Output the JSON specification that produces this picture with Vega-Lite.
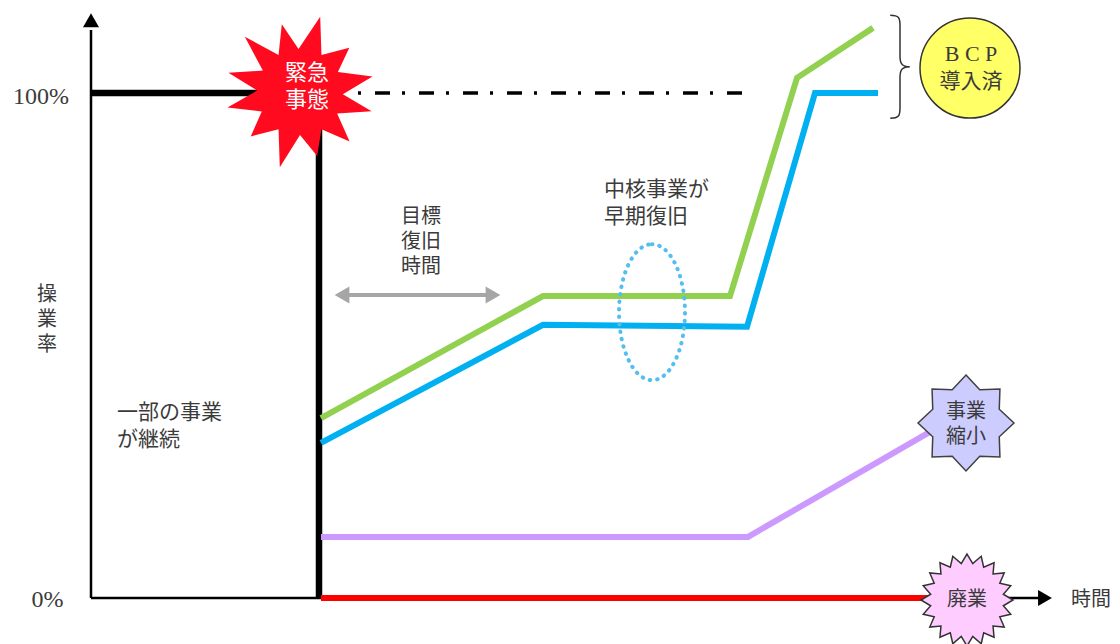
{
  "$schema": "https://vega.github.io/schema/vega-lite/v6.json",
  "width": 1120,
  "height": 644,
  "autosize": {"type": "fit", "contains": "padding"},
  "padding": 0,
  "background": "white",
  "config": {"view": {"stroke": null}},
  "datasets": {
    "axes": [
      {"part": "y", "i": 0, "t": -0.1, "v": 0},
      {"part": "y", "i": 1, "t": -0.1, "v": 112.5},
      {"part": "x", "i": 0, "t": -0.1, "v": 0},
      {"part": "x", "i": 1, "t": 94.9, "v": 0}
    ],
    "yArrow": [{"t": -0.1, "v": 114.4}],
    "xArrow": [{"t": 95.3, "v": 0}],
    "before": [
      {"i": 0, "t": -0.1, "v": 100},
      {"i": 1, "t": 22.7, "v": 100},
      {"i": 2, "t": 22.7, "v": 0}
    ],
    "target": [
      {"i": 0, "t": 26.6, "v": 100},
      {"i": 1, "t": 65.0, "v": 100}
    ],
    "recovery": [
      {"s": "BCP導入済A", "i": 0, "t": 22.9, "v": 35.6},
      {"s": "BCP導入済A", "i": 1, "t": 45.1, "v": 59.8},
      {"s": "BCP導入済A", "i": 2, "t": 63.8, "v": 59.8},
      {"s": "BCP導入済A", "i": 3, "t": 70.5, "v": 103.0},
      {"s": "BCP導入済A", "i": 4, "t": 78.1, "v": 112.9},
      {"s": "BCP導入済B", "i": 0, "t": 22.9, "v": 30.7},
      {"s": "BCP導入済B", "i": 1, "t": 45.1, "v": 54.1},
      {"s": "BCP導入済B", "i": 2, "t": 65.5, "v": 53.7},
      {"s": "BCP導入済B", "i": 3, "t": 72.3, "v": 100},
      {"s": "BCP導入済B", "i": 4, "t": 78.6, "v": 100},
      {"s": "事業縮小", "i": 0, "t": 22.9, "v": 12.1},
      {"s": "事業縮小", "i": 1, "t": 65.6, "v": 12.1},
      {"s": "事業縮小", "i": 2, "t": 83.8, "v": 32.9},
      {"s": "廃業", "i": 0, "t": 22.9, "v": 0},
      {"s": "廃業", "i": 1, "t": 84.3, "v": 0}
    ],
    "span": [
      {"i": 0, "t": 25.0, "v": 60},
      {"i": 1, "t": 40.1, "v": 60}
    ],
    "spanLeft": [{"t": 25.0, "v": 60}],
    "spanRight": [{"t": 40.1, "v": 60}],
    "core": [{"t": 56.0, "v": 56.6}],
    "emergency": [{"t": 20.8, "v": 100.2}],
    "brace": [{"t": 80.8, "v": 105.2}],
    "bcp": [{"t": 87.8, "v": 104.95}],
    "shrink": [{"t": 87.4, "v": 34.65}],
    "closure": [{"t": 87.5, "v": -0.4}],
    "centerText": [
      {"label": "目標\n復旧\n時間", "t": 32.9, "v": 75.4},
      {"label": "操\n業\n率", "t": -4.5, "v": 60.0},
      {"label": "事業\n縮小", "t": 87.4, "v": 36.8},
      {"label": "廃業", "t": 87.5, "v": -0.4},
      {"label": "時間", "t": 99.9, "v": -0.4}
    ],
    "leftText": [
      {"label": "一部の事業\nが継続", "t": 2.5, "v": 36.6},
      {"label": "中核事業が\n早期復旧", "t": 51.2, "v": 80.8}
    ],
    "serifText": [
      {"label": "100%", "t": -5.1, "v": 99.2},
      {"label": "0%", "t": -4.45, "v": -0.4}
    ],
    "bcpLatin": [{"label": "B  C  P", "t": 87.9, "v": 107.7}],
    "bcpJa": [{"label": "導入済", "t": 87.9, "v": 102.2}],
    "whiteText": [
      {"label": "緊急\n事態", "t": 21.5, "v": 104.0}
    ]
  },
  "encoding": {
    "x": {"field": "t", "type": "quantitative", "scale": {"domain": [-9.2, 102.8], "nice": false, "zero": false}, "axis": null},
    "y": {"field": "v", "type": "quantitative", "scale": {"domain": [-9.11, 118.42], "nice": false, "zero": false}, "axis": null}
  },
  "layer": [
    {
      "data": {"name": "axes"},
      "mark": {"type": "line", "color": "#000000", "strokeWidth": 2.5},
      "encoding": {"detail": {"field": "part"}, "order": {"field": "i"}}
    },
    {
      "data": {"name": "yArrow"},
      "mark": {"type": "point", "shape": "triangle-up", "filled": true, "color": "#000000", "opacity": 1, "size": 256, "strokeWidth": 0}
    },
    {
      "data": {"name": "xArrow"},
      "mark": {"type": "point", "shape": "triangle-right", "filled": true, "color": "#000000", "opacity": 1, "size": 256, "strokeWidth": 0}
    },
    {
      "data": {"name": "before"},
      "mark": {"type": "line", "color": "#000000", "strokeWidth": 6.5, "strokeJoin": "miter", "strokeCap": "butt"},
      "encoding": {"order": {"field": "i"}}
    },
    {
      "data": {"name": "target"},
      "mark": {"type": "line", "color": "#000000", "strokeWidth": 3.5, "strokeDash": [3, 14, 15, 12]},
      "encoding": {"order": {"field": "i"}}
    },
    {
      "data": {"name": "recovery"},
      "mark": {"type": "line", "strokeWidth": 6, "strokeJoin": "miter", "strokeCap": "butt"},
      "encoding": {
        "color": {"field": "s", "type": "nominal", "scale": {"domain": ["BCP導入済A", "BCP導入済B", "事業縮小", "廃業"], "range": ["#92D050", "#00B0F0", "#CC99FF", "#FF0000"]}, "legend": null},
        "order": {"field": "i"}
      }
    },
    {
      "data": {"name": "span"},
      "mark": {"type": "line", "color": "#A6A6A6", "strokeWidth": 4},
      "encoding": {"order": {"field": "i"}}
    },
    {
      "data": {"name": "spanLeft"},
      "mark": {"type": "point", "shape": "triangle-left", "filled": true, "color": "#A6A6A6", "opacity": 1, "size": 289, "strokeWidth": 0}
    },
    {
      "data": {"name": "spanRight"},
      "mark": {"type": "point", "shape": "triangle-right", "filled": true, "color": "#A6A6A6", "opacity": 1, "size": 289, "strokeWidth": 0}
    },
    {
      "data": {"name": "core"},
      "mark": {"type": "point", "shape": "M 0 -1 A 0.485 1 0 1 1 0 1 A 0.485 1 0 1 1 0 -1 Z", "filled": false, "stroke": "#55BEF0", "strokeWidth": 4, "strokeDash": [0.5, 7], "strokeCap": "round", "opacity": 1, "size": 18496}
    },
    {
      "data": {"name": "emergency"},
      "mark": {"type": "point", "shape": "M 0.259 -0.966 L 0.275 -0.476 L 0.632 -0.569 L 0.486 -0.258 L 0.929 -0.198 L 0.549 0.029 L 0.918 0.246 L 0.476 0.275 L 0.636 0.636 L 0.275 0.476 L 0.220 0.821 L 0 0.55 L -0.259 0.966 L -0.275 0.476 L -0.632 0.569 L -0.490 0.250 L -0.929 0.198 L -0.550 -0.019 L -0.918 -0.246 L -0.476 -0.275 L -0.707 -0.707 L -0.275 -0.476 L -0.233 -0.869 L -0.019 -0.550 Z", "filled": true, "fill": "#FF0A1E", "strokeWidth": 0, "opacity": 1, "size": 24336}
    },
    {
      "data": {"name": "brace"},
      "mark": {"type": "point", "shape": "M -0.19 -1 C -0.02 -1 0 -0.95 0 -0.8 L 0 -0.2 C 0 -0.05 0.05 0 0.19 0 C 0.05 0 0 0.05 0 0.2 L 0 0.8 C 0 0.95 -0.02 1 -0.19 1", "filled": false, "stroke": "#333333", "strokeWidth": 1.5, "opacity": 1, "size": 10609}
    },
    {
      "data": {"name": "bcp"},
      "mark": {"type": "point", "shape": "circle", "filled": true, "fill": "#FFFF66", "stroke": "#333333", "strokeWidth": 1.5, "opacity": 1, "size": 10000}
    },
    {
      "data": {"name": "shrink"},
      "mark": {"type": "point", "shape": "M 0 -1 L 0.287 -0.693 L 0.707 -0.707 L 0.693 -0.287 L 1 0 L 0.693 0.287 L 0.707 0.707 L 0.287 0.693 L 0 1 L -0.287 0.693 L -0.707 0.707 L -0.693 0.287 L -1 0 L -0.693 -0.287 L -0.707 -0.707 L -0.287 -0.693 Z", "filled": true, "fill": "#CCCCFF", "stroke": "#404040", "strokeWidth": 1.5, "opacity": 1, "size": 9216}
    },
    {
      "data": {"name": "closure"},
      "mark": {"type": "point", "clip": true, "shape": "M 0 -1 L 0.125 -0.790 L 0.309 -0.951 L 0.363 -0.713 L 0.588 -0.809 L 0.566 -0.566 L 0.809 -0.588 L 0.713 -0.363 L 0.951 -0.309 L 0.790 -0.125 L 1 0 L 0.790 0.125 L 0.951 0.309 L 0.713 0.363 L 0.809 0.588 L 0.566 0.566 L 0.588 0.809 L 0.363 0.713 L 0.309 0.951 L 0.125 0.790 L 0 1 L -0.125 0.790 L -0.309 0.951 L -0.363 0.713 L -0.588 0.809 L -0.566 0.566 L -0.809 0.588 L -0.713 0.363 L -0.951 0.309 L -0.790 0.125 L -1 0 L -0.790 -0.125 L -0.951 -0.309 L -0.713 -0.363 L -0.809 -0.588 L -0.566 -0.566 L -0.588 -0.809 L -0.363 -0.713 L -0.309 -0.951 L -0.125 -0.790 Z", "filled": true, "fill": "#FFCCFF", "stroke": "#333333", "strokeWidth": 1.5, "opacity": 1, "size": 8464}
    },
    {
      "data": {"name": "centerText"},
      "mark": {"type": "text", "font": "Noto Sans CJK JP", "fontSize": 20, "lineHeight": 25, "lineBreak": "\n", "color": "#3b3b3b", "align": "center", "baseline": "middle"},
      "encoding": {"text": {"field": "label"}}
    },
    {
      "data": {"name": "leftText"},
      "mark": {"type": "text", "font": "Noto Sans CJK JP", "fontSize": 21, "lineHeight": 27, "lineBreak": "\n", "color": "#3b3b3b", "align": "left", "baseline": "middle"},
      "encoding": {"text": {"field": "label"}}
    },
    {
      "data": {"name": "serifText"},
      "mark": {"type": "text", "font": "Liberation Serif", "fontSize": 24, "color": "#3b3b3b", "align": "center", "baseline": "middle"},
      "encoding": {"text": {"field": "label"}}
    },
    {
      "data": {"name": "bcpLatin"},
      "mark": {"type": "text", "font": "Liberation Serif", "fontSize": 22, "color": "#3b3b3b", "align": "center", "baseline": "middle"},
      "encoding": {"text": {"field": "label"}}
    },
    {
      "data": {"name": "bcpJa"},
      "mark": {"type": "text", "font": "Noto Sans CJK JP", "fontSize": 21, "color": "#3b3b3b", "align": "center", "baseline": "middle"},
      "encoding": {"text": {"field": "label"}}
    },
    {
      "data": {"name": "whiteText"},
      "mark": {"type": "text", "font": "Noto Sans CJK JP", "fontSize": 22, "lineHeight": 27, "lineBreak": "\n", "color": "#FFFFFF", "align": "center", "baseline": "middle"},
      "encoding": {"text": {"field": "label"}}
    }
  ]
}
